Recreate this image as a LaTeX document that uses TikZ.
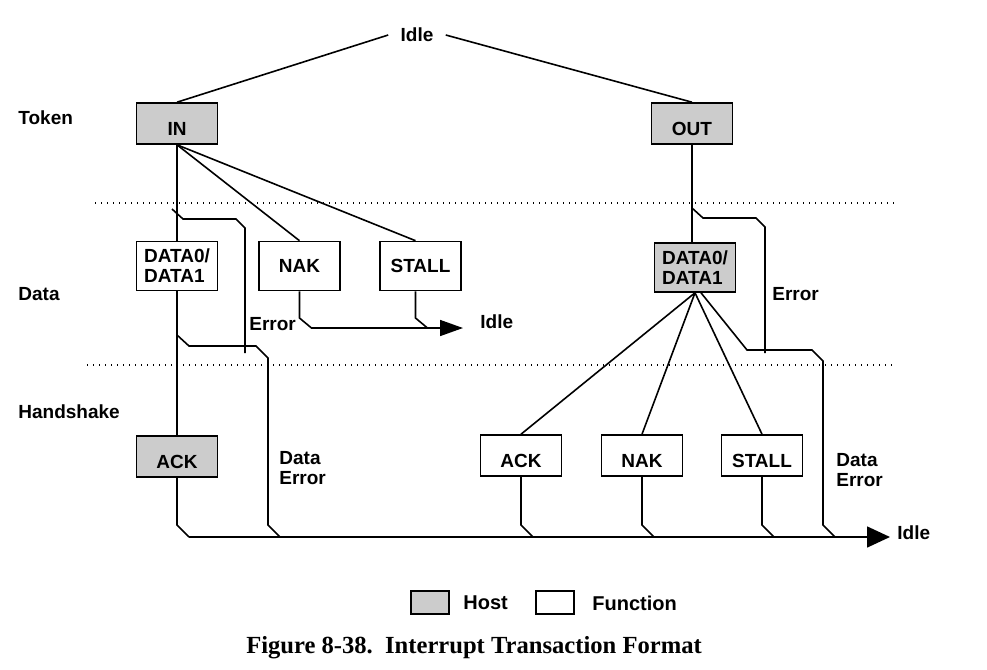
\documentclass[tikz,border=0pt]{standalone}
\usepackage{fontspec}
\setmainfont{Liberation Sans}
\newfontfamily\capfont{Liberation Serif}
\usetikzlibrary{arrows.meta}

\newcommand{\lblfont}{\fontsize{9.5}{10}\selectfont\bfseries}

\tikzset{
	wire/.style={line width=0.8pt},
	layer/.style={line width=0.7pt, dash pattern=on 0.7pt off 2.3pt},
	box/.style={draw, line width=0.8pt, minimum width=40.5pt, inner sep=0pt, font=\lblfont},
	hostbox/.style={box, fill=black!20},
	low/.style={minimum height=20.5pt, text height=12pt, text depth=0pt},
	tall/.style={minimum height=24.5pt, align=left},
	lbl/.style={inner sep=0pt, anchor=west, font=\lblfont, align=left},
	tip/.style={-{Triangle[length=11.5pt,width=#1]}}
}

\begin{document}
\begin{tikzpicture}[x=0.5pt,y=-0.5pt]
		\useasboundingbox (0,0) rectangle (987,670);
		
		% Layer borders
		\draw[layer] (95,203) -- (897,203);
		\draw[layer] (87,365) -- (895,365);
		
		% Layer names
		\node[lbl] (token) at (18,118) {Token};
		\node[lbl] (data) at (18,294) {Data};
		\node[lbl] (hshake) at (18,412) {Handshake};
		
		% Packets
		\node[font=\lblfont, inner sep=6pt] (idle) at (417,35) {Idle};
		\node[hostbox,low] (in) at (177,123.5) {IN};
		\node[hostbox,low] (out) at (692,123.5) {OUT};
		\node[box,tall] (dl) at (177,266) {DATA0/\\DATA1};
		\node[box,tall] (nakl) at (299.5,266) {NAK};
		\node[box,tall] (stalll) at (420.5,266) {STALL};
		\node[hostbox,tall] (dr) at (695,267.5) {DATA0/\\DATA1};
		\node[hostbox,low] (ackl) at (177,456.5) {ACK};
		\node[box,low] (ackr) at (521,455.5) {ACK};
		\node[box,low] (nakr) at (642,455.5) {NAK};
		\node[box,low] (stallr) at (762,455.5) {STALL};
		
		% Labels
		\node[lbl] (err1) at (249,324) {Error};
		\node[lbl] (err2) at (772,294) {Error};
		\node[lbl] (derr1) at (279,468) {Data\\Error};
		\node[lbl] (derr2) at (836,470) {Data\\Error};
		\node[lbl] (idle2) at (480,322) {Idle};
		\node[lbl] (idle3) at (897,533) {Idle};
		
		% Helper levels
		\coordinate (j1) at (0,318);
		\coordinate (j2) at (0,525);
		\coordinate (arr1) at (463,328);
		\coordinate (bus) at (189,537);
		\coordinate (arr2) at (890,537);
		
		% Idle to tokens
		\draw[wire] (idle.west) -- (in.north);
		\draw[wire] (idle.east) -- (out.north);
		
		% IN transaction
		\draw[wire] (in.south) -- (dl.north);
		\draw[wire] (in.south) -- (nakl.north);
		\draw[wire] (in.south) -- ([xshift=-2.5pt]stalll.north);
		\draw[wire] (dl.south) -- (ackl.north);
		\draw[wire] (172,209) -- ++(11,10) -- (236,219) -- ++(9,9) -- (245,353);
		\draw[wire] (177,335) -- ++(12,11) -- (256,346) -- ++(12,12) -- (268,525) -- ++(12,12);
		\draw[wire,tip=8pt] (nakl.south) -- (nakl.south |- j1) -- ++(12,10) -- (arr1);
		\draw[wire] ([xshift=-2.5pt]stalll.south) -- ([xshift=-2.5pt]stalll.south |- j1) -- ++(12,10);
		\draw[wire] (ackl.south) -- (ackl.south |- j2) -- (bus);
		
		% OUT transaction
		\draw[wire] (out.south) -- (out.south |- dr.north);
		\draw[wire] (692,208) -- ++(11,10) -- (756,218) -- ++(9,9) -- (765,353);
		\draw[wire] (dr.south) -- (ackr.north);
		\draw[wire] (dr.south) -- (nakr.north);
		\draw[wire] (dr.south) -- (stallr.north);
		\draw[wire] ([xshift=3pt]dr.south) -- (747,350) -- (812,350) -- ++(11,11) -- (823,525) -- ++(12,12);
		\draw[wire] (ackr.south) -- (ackr.south |- j2) -- ++(12,12);
		\draw[wire] (nakr.south) -- (nakr.south |- j2) -- ++(12,12);
		\draw[wire] (stallr.south) -- (stallr.south |- j2) -- ++(12,12);
		
		% Bus to Idle
		\draw[wire,tip=10.5pt] (bus) -- (arr2);
		
		% Legend
		\node[draw, line width=0.8pt, fill=black!20, minimum width=19pt, minimum height=11.5pt, inner sep=0pt] (hostkey) at (430,602.5) {};
		\node[lbl, font=\fontsize{10}{11}\selectfont\bfseries] (hosttxt) at (463,603) {Host};
		\node[draw, line width=0.8pt, minimum width=19pt, minimum height=11.5pt, inner sep=0pt] (funckey) at (555,602.5) {};
		\node[lbl, font=\fontsize{10}{11}\selectfont\bfseries] (functxt) at (592,603) {Function};
		
		% Caption
		\node[font=\capfont\fontsize{12.3}{14}\selectfont\bfseries] (caption) at (474,648) {Figure 8-38.~~Interrupt Transaction Format};
		
	\end{tikzpicture}
\end{document}
